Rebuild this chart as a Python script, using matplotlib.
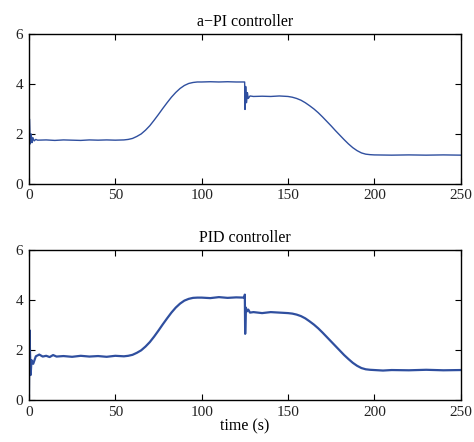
import matplotlib
matplotlib.use("Agg")
import matplotlib.pyplot as plt

# ---- data ----
t_pi = [0, 0.3, 0.8, 1.3, 1.8, 2.3, 3, 4, 5, 10, 15, 20, 25, 30, 35, 40, 45, 50, 55,
        57.5, 60, 62.5, 65, 67.5, 70, 72.5, 75, 77.5, 80, 82.5, 85, 87.5, 90, 92.5, 95, 97.5,
        100, 105, 110, 115, 120, 124.9,
        125.1, 125.5, 126, 126.5, 127, 128, 130, 135, 140, 145, 150,
        152.5, 155, 157.5, 160, 162.5, 165, 167.5, 170, 172.5, 175, 177.5, 180, 182.5, 185,
        187.5, 190, 192.5, 195, 197.5, 200, 210, 220, 230, 240, 250]
y_pi = [0, 2.6, 1.6, 2.0, 1.65, 1.85, 1.72, 1.78, 1.75, 1.76, 1.74, 1.76, 1.75, 1.74, 1.76, 1.75, 1.76, 1.75, 1.76,
        1.78, 1.82, 1.90, 2.00, 2.15, 2.33, 2.55, 2.78, 3.02, 3.25, 3.47, 3.66, 3.82, 3.94, 4.02, 4.06, 4.08,
        4.08, 4.09, 4.08, 4.09, 4.08, 4.08,
        2.98, 3.9, 3.25, 3.65, 3.42, 3.52, 3.5, 3.51, 3.5, 3.52, 3.5,
        3.47, 3.42, 3.35, 3.25, 3.13, 3.00, 2.85, 2.68, 2.50, 2.32, 2.13, 1.95, 1.77, 1.60,
        1.45, 1.33, 1.24, 1.19, 1.17, 1.16, 1.15, 1.16, 1.15, 1.16, 1.15]

t_pid = [0, 0.3, 1.0, 1.5, 2.5, 4, 6, 8, 10, 12, 14, 16, 20, 25, 30, 35, 40, 45, 50, 55,
         57.5, 60, 62.5, 65, 67.5, 70, 72.5, 75, 77.5, 80, 82.5, 85, 87.5, 90, 92.5, 95, 97.5,
         100, 105, 110, 115, 120, 124.8,
         125.0, 125.2, 125.6, 126.2, 127, 128, 130, 135, 140, 145, 150,
         152.5, 155, 157.5, 160, 162.5, 165, 167.5, 170, 172.5, 175, 177.5, 180, 182.5, 185,
         187.5, 190, 192.5, 195, 197.5, 200, 205, 210, 220, 230, 240, 250]
y_pid = [0, 2.8, 1.0, 1.6, 1.45, 1.75, 1.82, 1.74, 1.77, 1.72, 1.80, 1.74, 1.76, 1.73, 1.77, 1.74, 1.76, 1.73, 1.77, 1.75,
         1.77, 1.81, 1.89, 1.99, 2.14, 2.32, 2.54, 2.78, 3.03, 3.27, 3.50, 3.70, 3.86, 3.98, 4.05, 4.09, 4.10,
         4.10, 4.08, 4.12, 4.09, 4.11, 4.10,
         4.22, 2.65, 3.7, 3.55, 3.62, 3.5, 3.52, 3.48, 3.52, 3.5, 3.48,
         3.46, 3.42, 3.36, 3.27, 3.15, 3.02, 2.87, 2.70, 2.52, 2.34, 2.16, 1.98, 1.80, 1.64,
         1.49, 1.37, 1.28, 1.23, 1.21, 1.20, 1.18, 1.20, 1.19, 1.21, 1.19, 1.20]

titles = ["a\u2212PI controller", "PID controller"]
x_ticks = [0, 50, 100, 150, 200, 250]
y_ticks = [0, 2, 4, 6]
xlabel = "time (s)"

# ---- styling ----
plt.rcParams['font.family'] = ['Liberation Serif', 'DejaVu Serif']
line_color = "#2f4f9f"

fig = plt.figure(figsize=(4.74, 4.42), dpi=100)
ax1 = fig.add_axes([0.061, 0.584, 0.911, 0.339])
ax2 = fig.add_axes([0.061, 0.095, 0.911, 0.339])

for ax, t, y, title, lw in [(ax1, t_pi, y_pi, titles[0], 1.0), (ax2, t_pid, y_pid, titles[1], 1.6)]:
    ax.plot(t, y, color=line_color, lw=lw)
    ax.set_xlim(0, 250)
    ax.set_ylim(0, 6)
    ax.set_xticks(x_ticks)
    ax.set_yticks(y_ticks)
    ax.tick_params(direction='in', top=True, right=True, labelsize=11, length=4, width=0.8, pad=4,
                   labelcolor='#222222')
    ax.set_title(title, fontsize=11.5, pad=6)
    for s in ax.spines.values():
        s.set_linewidth(1.0)

ax2.set_xlabel(xlabel, fontsize=11.5, labelpad=0)

fig.savefig("out.png", dpi=100)
